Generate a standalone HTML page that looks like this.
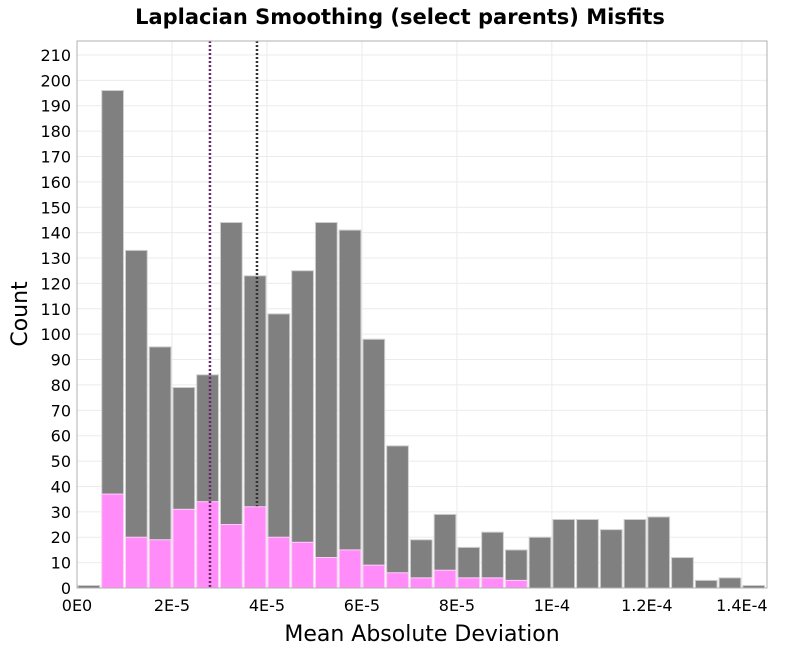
<!DOCTYPE html>
<html><head><meta charset="utf-8"><style>
body{margin:0;background:#fff;}
svg text{font-family:"DejaVu Sans","Liberation Sans",sans-serif;}
</style></head><body>
<svg id="chart" width="800" height="650" xmlns="http://www.w3.org/2000/svg">
<text x="400" y="24" text-anchor="middle" font-size="21" font-weight="bold" fill="#000">Laplacian Smoothing (select parents) Misfits</text>
<g id="grid"></g><g id="bars"></g><g id="axes"></g>
<text x="422" y="641" text-anchor="middle" font-size="22" fill="#000">Mean Absolute Deviation</text>
<text transform="translate(27,314) rotate(-90)" text-anchor="middle" font-size="22" fill="#000">Count</text>
</svg>
<script>
const binWidth = 5e-6;
const totalCounts = [1,196,133,95,79,84,144,123,108,125,144,141,98,56,19,29,16,22,15,20,27,27,23,27,28,12,3,4,1];
const selectCounts = [0,37,20,19,31,34,25,32,20,18,12,15,9,6,4,7,4,4,3,0,0,0,0,0,0,0,0,0,0];
const xTicks = [0,2e-5,4e-5,6e-5,8e-5,1e-4,1.2e-4,1.4e-4];
const xTickLabels = ["0E0","2E-5","4E-5","6E-5","8E-5","1E-4","1.2E-4","1.4E-4"];
const refLines = [2.8e-5, 3.79e-5];
const L=77,R=767,T=41,B=588,xMax=1.453e-4,yMax=215.5;
const NS="http://www.w3.org/2000/svg";
const x=v=>L+v/xMax*(R-L);
const y=v=>B-v/yMax*(B-T);
function mk(tag,attrs,parent){const e=document.createElementNS(NS,tag);for(const k in attrs)e.setAttribute(k,attrs[k]);parent.appendChild(e);return e;}
const grid=document.getElementById('grid'),bars=document.getElementById('bars'),axes=document.getElementById('axes');
mk('rect',{x:L,y:T,width:R-L,height:B-T,fill:'#fff'},grid);
for(let v=0;v<=210;v+=10){
 const l=mk('line',{x1:L,x2:R,y1:y(v),y2:y(v),stroke:'#ebebeb','stroke-width':1},grid);
 
 
 const t=mk('text',{x:L-6,y:y(v)+6,'text-anchor':'end','font-size':16,fill:'#000'},axes);
 t.textContent=v;
 
 
}
xTicks.forEach((v,i)=>{
 const l=mk('line',{x1:x(v),x2:x(v),y1:T,y2:B,stroke:'#ebebeb','stroke-width':1},grid);
 
 
 const t=mk('text',{x:x(v),y:B+23,'text-anchor':'middle','font-size':16,fill:'#000'},axes);
 t.textContent=xTickLabels[i];
 
 
});
totalCounts.forEach((c,i)=>{
 const x0=x(i*binWidth),x1=x((i+1)*binWidth);
 const r=mk('rect',{x:x0+1,y:y(c),width:x1-x0-2,height:B-y(c),fill:'#808080',stroke:'#d0d0d0','stroke-width':1},bars);
 
 
});
const d=mk('line',{x1:x(refLines[1]),x2:x(refLines[1]),y1:T,y2:B,stroke:'#333','stroke-width':2.5,'stroke-dasharray':'2,2'},bars);


selectCounts.forEach((c,i)=>{
 if(c<=0)return;
 const x0=x(i*binWidth),x1=x((i+1)*binWidth);
 const r=mk('rect',{x:x0+1,y:y(c),width:x1-x0-2,height:B-y(c),fill:'#ff8cf8',stroke:'#ffd0fb','stroke-width':1},bars);
 
 
});
const p=mk('line',{x1:x(refLines[0]),x2:x(refLines[0]),y1:T,y2:B,stroke:'#6a2a6a','stroke-width':2.5,'stroke-dasharray':'2,2'},bars);


const f=mk('rect',{x:L,y:T,width:R-L,height:B-T,fill:'none',stroke:'#b0b0b0','stroke-width':1},axes);


</script>
</body></html>
